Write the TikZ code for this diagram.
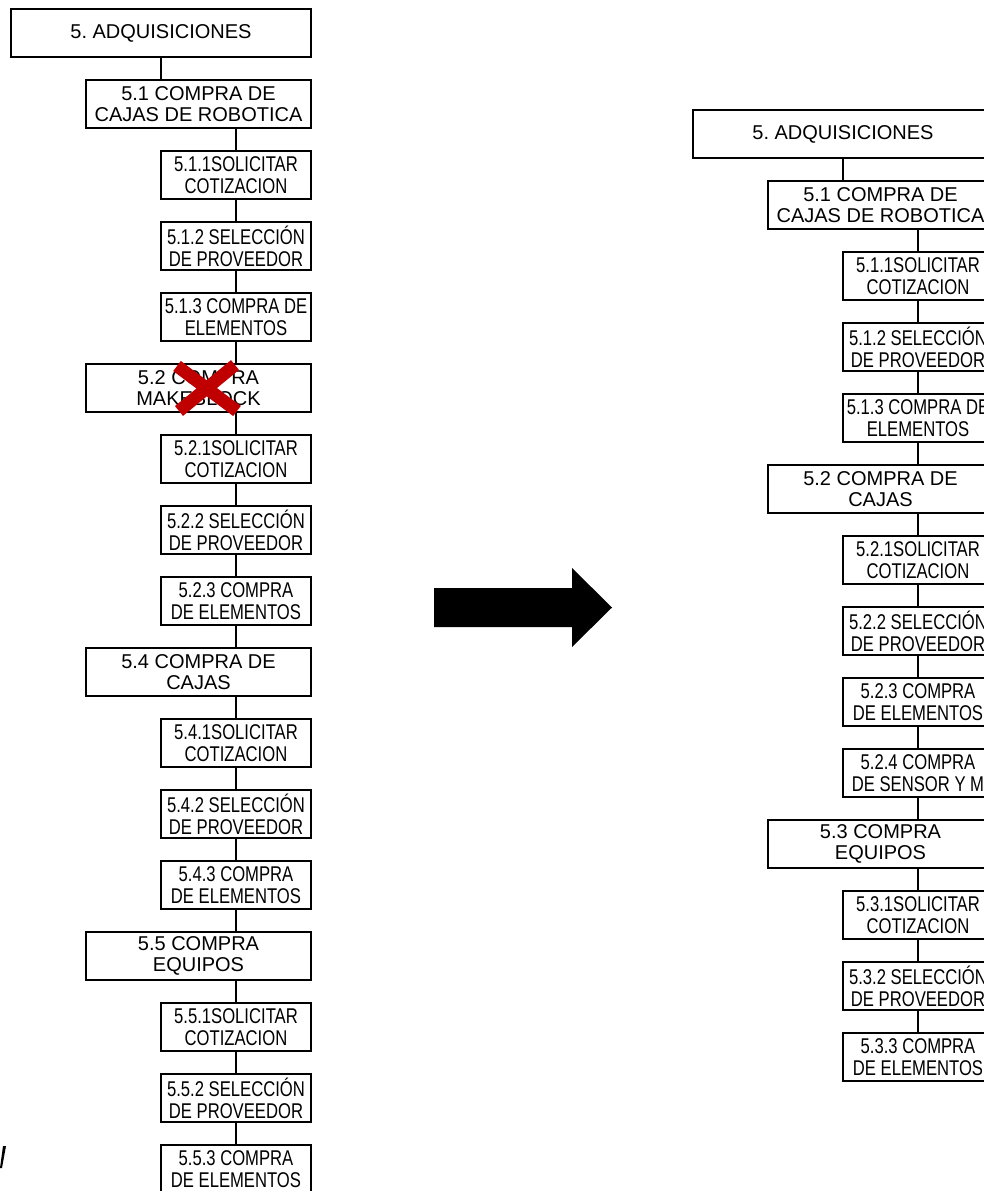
\documentclass[tikz,border=0pt]{standalone}
\usepackage{fontspec}
\setmainfont{Liberation Sans}
\newfontfamily\narrowfont[FakeStretch=0.78]{Liberation Sans}
\frenchspacing
\definecolor{crossred}{HTML}{C00000}
\tikzset{
  box/.style={draw=black, line width=1.2pt, inner sep=0pt, align=center, text=black, fill=white},
  lvlone/.style={box, minimum width=225pt, minimum height=36pt, font=\fontsize{15}{16}\selectfont},
  lvltwo/.style={box, minimum width=168.75pt, minimum height=36pt, font=\fontsize{15}{16}\selectfont},
  lvlthree/.style={box, minimum width=112.5pt, minimum height=36pt, font=\narrowfont\fontsize{16}{16.5}\selectfont},
  link/.style={draw=black, line width=1.2pt},
  crossmark/.style={draw=crossred, line width=9.5pt},
}
\begin{document}
\begin{tikzpicture}[x=0.75pt, y=-0.75pt]
\useasboundingbox (0,0) rectangle (984,1191);
\clip (0,0) rectangle (984,1191);

% ---------- left tree ----------
\node[lvlone]   (a0)   at (161,33)    {5. ADQUISICIONES};
\node[lvltwo]   (a1)   at (198.5,104) {5.1 COMPRA DE\\CAJAS DE ROBOTICA};
\node[lvlthree] (a11)  at (236,175)   {5.1.1SOLICITAR\\COTIZACION};
\node[lvlthree] (a12)  at (236,246)   {5.1.2 SELECCIÓN\\DE PROVEEDOR};
\node[lvlthree] (a13)  at (236,317)   {5.1.3 COMPRA DE\\ELEMENTOS};
\node[lvltwo]   (a2)   at (198.5,388) {5.2 COMPRA\\MAKEBLOCK};
\node[lvlthree] (a21)  at (236,459)   {5.2.1SOLICITAR\\COTIZACION};
\node[lvlthree] (a22)  at (236,530)   {5.2.2 SELECCIÓN\\DE PROVEEDOR};
\node[lvlthree] (a23)  at (236,601)   {5.2.3 COMPRA\\DE ELEMENTOS};
\node[lvltwo]   (a4)   at (198.5,672) {5.4 COMPRA DE\\CAJAS};
\node[lvlthree] (a41)  at (236,743)   {5.4.1SOLICITAR\\COTIZACION};
\node[lvlthree] (a42)  at (236,814)   {5.4.2 SELECCIÓN\\DE PROVEEDOR};
\node[lvlthree] (a43)  at (236,885)   {5.4.3 COMPRA\\DE ELEMENTOS};
\node[lvltwo]   (a5)   at (198.5,956) {5.5 COMPRA\\EQUIPOS};
\node[lvlthree] (a51)  at (236,1027)  {5.5.1SOLICITAR\\COTIZACION};
\node[lvlthree] (a52)  at (236,1098)  {5.5.2 SELECCIÓN\\DE PROVEEDOR};
\node[lvlthree] (a53)  at (236,1169)  {5.5.3 COMPRA\\DE ELEMENTOS};

\draw[link] (a0.south) -- (a0.south |- a1.north);
\foreach \up/\down in {a1/a11, a2/a21, a4/a41, a5/a51}
  \draw[link] (\down.north |- \up.south) -- (\down.north);
\foreach \up/\down in {a11/a12, a12/a13, a13/a2, a21/a22, a22/a23, a23/a4,
                       a41/a42, a42/a43, a43/a5, a51/a52, a52/a53}
  \draw[link] (\up.south) -- (\up.south |- \down.north);

% struck-out branch
\draw[crossmark] (177,366) -- (237,411);
\draw[crossmark] (235,365) -- (179,411);

% ---------- block arrow ----------
\fill[black] (434,588) -- (572,588) -- (572,568) -- (612,607.5) -- (572,647)
  -- (572,627) -- (434,627) -- cycle;

% ---------- right tree ----------
\node[lvlone]   (b0)   at (843,134)   {5. ADQUISICIONES};
\node[lvltwo]   (b1)   at (880.5,205) {5.1 COMPRA DE\\CAJAS DE ROBOTICA};
\node[lvlthree] (b11)  at (918,276)   {5.1.1SOLICITAR\\COTIZACION};
\node[lvlthree] (b12)  at (918,347)   {5.1.2 SELECCIÓN\\DE PROVEEDOR};
\node[lvlthree] (b13)  at (918,418)   {5.1.3 COMPRA DE\\ELEMENTOS};
\node[lvltwo]   (b2)   at (880.5,489) {5.2 COMPRA DE\\CAJAS};
\node[lvlthree] (b21)  at (918,560)   {5.2.1SOLICITAR\\COTIZACION};
\node[lvlthree] (b22)  at (918,631)   {5.2.2 SELECCIÓN\\DE PROVEEDOR};
\node[lvlthree] (b23)  at (918,702)   {5.2.3 COMPRA\\DE ELEMENTOS};
\node[lvlthree] (b24)  at (918,773)   {5.2.4 COMPRA\\DE SENSOR Y M};
\node[lvltwo]   (b3)   at (880.5,844) {5.3 COMPRA\\EQUIPOS};
\node[lvlthree] (b31)  at (918,915)   {5.3.1SOLICITAR\\COTIZACION};
\node[lvlthree] (b32)  at (918,986)   {5.3.2 SELECCIÓN\\DE PROVEEDOR};
\node[lvlthree] (b33)  at (918,1057)  {5.3.3 COMPRA\\DE ELEMENTOS};

\draw[link] (b0.south) -- (b0.south |- b1.north);
\foreach \up/\down in {b1/b11, b2/b21, b3/b31}
  \draw[link] (\down.north |- \up.south) -- (\down.north);
\foreach \up/\down in {b11/b12, b12/b13, b13/b2, b21/b22, b22/b23, b23/b24,
                       b24/b3, b31/b32, b32/b33}
  \draw[link] (\up.south) -- (\up.south |- \down.north);

% small stroke at the lower left edge
\fill[black] (0,1168) -- (3,1146) -- (6,1146) -- (2,1168) -- cycle;
\end{tikzpicture}
\end{document}
